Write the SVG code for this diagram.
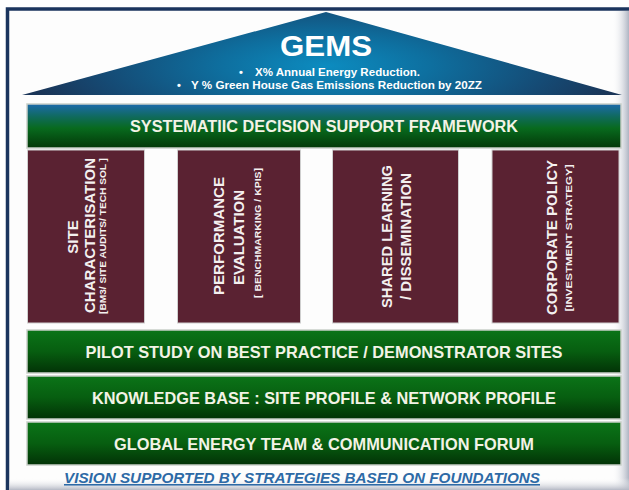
<svg xmlns="http://www.w3.org/2000/svg" width="629" height="490" viewBox="0 0 629 490">
<defs>
<radialGradient id="roofGrad" gradientUnits="userSpaceOnUse" cx="326" cy="66" r="300" gradientTransform="translate(326 66) scale(1 0.28) translate(-326 -66)">
<stop offset="0" stop-color="#0c8cc0"/>
<stop offset="0.35" stop-color="#0e6f9f"/>
<stop offset="0.75" stop-color="#154a74"/>
<stop offset="1" stop-color="#1a3558"/>
</radialGradient>
<linearGradient id="sysGrad" x1="0" y1="0" x2="0" y2="1">
<stop offset="0" stop-color="#1c6aac"/>
<stop offset="0.3" stop-color="#0f6a5a"/>
<stop offset="0.55" stop-color="#086a1e"/>
<stop offset="1" stop-color="#033808"/>
</linearGradient>
<linearGradient id="barGrad" x1="0" y1="0" x2="0" y2="1">
<stop offset="0" stop-color="#0b7418"/>
<stop offset="0.5" stop-color="#075e10"/>
<stop offset="1" stop-color="#023206"/>
</linearGradient>
<linearGradient id="rightShade" x1="0" y1="0" x2="1" y2="0">
<stop offset="0" stop-color="#ffffff" stop-opacity="0"/>
<stop offset="1" stop-color="#aeb4c2"/>
</linearGradient>
<linearGradient id="bottomShade" x1="0" y1="0" x2="0" y2="1">
<stop offset="0" stop-color="#ffffff" stop-opacity="0"/>
<stop offset="1" stop-color="#b4b8c4"/>
</linearGradient>
<style>
.bar { fill: url(#barGrad); stroke: #c9cfc9; stroke-width: 1.5; }
.pillar { fill: #5a2232; stroke: #cfcfcf; stroke-width: 1; }
.barText { font-family: "Liberation Sans", Arial, sans-serif; font-weight: bold; fill: #f3f3e6; text-anchor: middle; }
.pText { font-family: "Liberation Sans", Arial, sans-serif; font-weight: bold; fill: #f4f0f0; text-anchor: middle; }
.roofText { font-family: "Liberation Sans", Arial, sans-serif; font-weight: bold; fill: #ffffff; }
</style>
</defs>

<rect x="0" y="0" width="629" height="490" fill="#ffffff"/>

<!-- frame -->
<g id="frame">
<rect x="7.5" y="9" width="640" height="500" fill="#fdfdfd" stroke="#1b355e" stroke-width="3.5"/>
<rect x="612" y="11" width="17" height="479" fill="url(#rightShade)"/>
<rect x="9" y="478" width="620" height="12" fill="url(#bottomShade)"/>
</g>

<!-- roof -->
<g id="roof">
<polygon points="22,95 326,12 622,95" fill="url(#roofGrad)"/>
<text class="roofText" x="326" y="56" font-size="30" text-anchor="middle" textLength="92" lengthAdjust="spacingAndGlyphs">GEMS</text>
<text class="roofText" x="239" y="76" font-size="11">•</text>
<text class="roofText" x="255" y="76" font-size="11" textLength="165" lengthAdjust="spacingAndGlyphs">X%  Annual Energy Reduction.</text>
<text class="roofText" x="177" y="89" font-size="11">•</text>
<text class="roofText" x="191" y="89" font-size="11" textLength="291" lengthAdjust="spacingAndGlyphs">Y % Green  House Gas Emissions Reduction by 20ZZ</text>
</g>

<!-- systematic decision support framework -->
<g id="framework">
<rect x="27" y="104" width="594" height="44" fill="url(#sysGrad)" stroke="#c9cfc9" stroke-width="1.5"/>
<text class="barText" x="324" y="131.5" font-size="16" textLength="388" lengthAdjust="spacingAndGlyphs">SYSTEMATIIC DECISION SUPPORT FRAMEWORK</text>
</g>

<!-- pillars -->
<g id="pillar-site">
<rect class="pillar" x="27.5" y="150" width="117" height="173"/>
<text class="pText" font-size="15" transform="translate(77.5 237) rotate(-90)">SITE</text>
<text class="pText" font-size="15" transform="translate(94.5 235.5) rotate(-90)" textLength="155" lengthAdjust="spacingAndGlyphs">CHARACTERISATION</text>
<text class="pText" font-size="9" transform="translate(105.8 236) rotate(-90)" textLength="156" lengthAdjust="spacingAndGlyphs">[BM3/ SITE AUDITS/ TECH SOL ]</text>
</g>

<g id="pillar-performance">
<rect class="pillar" x="177.5" y="150" width="123" height="173"/>
<text class="pText" font-size="15" transform="translate(223.5 236) rotate(-90)" textLength="118" lengthAdjust="spacingAndGlyphs">PERFORMANCE</text>
<text class="pText" font-size="15" transform="translate(244 237.5) rotate(-90)" textLength="95" lengthAdjust="spacingAndGlyphs">EVALUATION</text>
<text class="pText" font-size="8.5" transform="translate(260.8 233) rotate(-90)" textLength="130" lengthAdjust="spacingAndGlyphs">[ BENCHMARKING  / KPIS]</text>
</g>

<g id="pillar-learning">
<rect class="pillar" x="332.5" y="150" width="126" height="173"/>
<text class="pText" font-size="15" transform="translate(391.5 236.5) rotate(-90)" textLength="143" lengthAdjust="spacingAndGlyphs">SHARED LEARNING</text>
<text class="pText" font-size="15" transform="translate(411 236.5) rotate(-90)" textLength="127" lengthAdjust="spacingAndGlyphs">/ DISSEMINATION</text>
</g>

<g id="pillar-policy">
<rect class="pillar" x="492" y="150" width="127" height="173"/>
<text class="pText" font-size="15.5" transform="translate(556.5 237.5) rotate(-90)" textLength="155" lengthAdjust="spacingAndGlyphs">CORPORATE POLICY</text>
<text class="pText" font-size="9.5" transform="translate(572 238) rotate(-90)" textLength="147" lengthAdjust="spacingAndGlyphs">[INVESTMENT  STRATEGY]</text>
</g>

<!-- foundation bars -->
<g id="pilot">
<rect class="bar" x="27" y="330" width="594" height="43"/>
<text class="barText" x="324" y="357.5" font-size="16.5" textLength="477" lengthAdjust="spacingAndGlyphs">PILOT STUDY ON BEST PRACTICE / DEMONSTRATOR SITES</text>
</g>

<g id="knowledge">
<rect class="bar" x="27" y="376" width="594" height="43"/>
<text class="barText" x="324" y="403.5" font-size="16.5" textLength="464" lengthAdjust="spacingAndGlyphs">KNOWLEDGE BASE : SITE PROFILE &amp; NETWORK PROFILE</text>
</g>

<g id="global">
<rect class="bar" x="27" y="422" width="594" height="43"/>
<text class="barText" x="324" y="449.5" font-size="16.5" textLength="420" lengthAdjust="spacingAndGlyphs">GLOBAL ENERGY TEAM &amp; COMMUNICATION FORUM</text>
</g>

<!-- caption -->
<g id="caption">
<text x="302" y="483" font-family="'Liberation Sans', Arial, sans-serif" font-weight="bold" font-style="italic" font-size="15.5" fill="#2d6aa6" text-anchor="middle" text-decoration="underline" textLength="476" lengthAdjust="spacingAndGlyphs">VISION  SUPPORTED BY STRATEGIES  BASED ON FOUNDATIONS</text>
</g>

<g id="connectors"></g>
</svg>
